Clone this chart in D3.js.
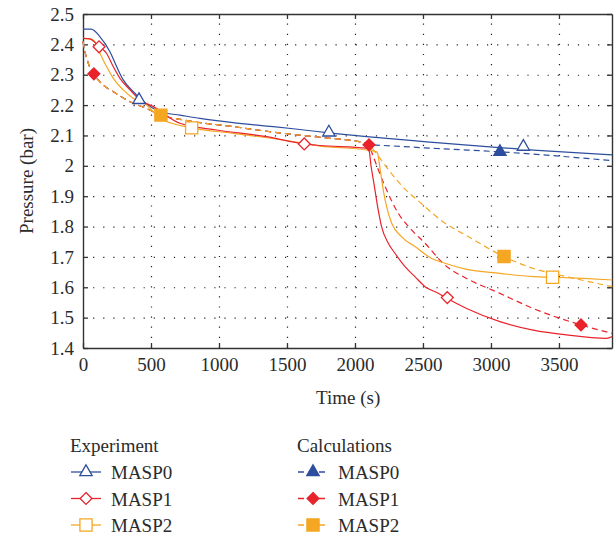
<!DOCTYPE html>
<html>
<head>
<meta charset="utf-8">
<script src="https://cdn.jsdelivr.net/npm/d3@7"></script>
<style>
	body { margin: 0; background: #fff; }
</style>
</head>
<body>
<div id="chart"></div>
<script>
// experiment curves
const expT0 = [0, 60, 125, 199, 248, 296, 370, 419, 505, 566, 713, 860, 1103, 1350, 1546, 1840, 2086, 2527, 2968, 3311, 3892];
const expP0 = [2.45, 2.45, 2.425, 2.375, 2.326, 2.283, 2.244, 2.222, 2.192, 2.178, 2.167, 2.156, 2.142, 2.131, 2.122, 2.107, 2.096, 2.079, 2.063, 2.052, 2.036];
const expT1 = [0, 50, 120, 174, 223, 272, 346, 419, 517, 713, 983, 1350, 1627, 1743, 2086, 2103, 2118, 2140, 2171, 2196, 2245, 2294, 2368, 2441, 2515, 2613, 2679, 2821, 3066, 3311, 3556, 3850, 3892];
const expP1 = [2.42, 2.418, 2.392, 2.37, 2.326, 2.288, 2.25, 2.217, 2.195, 2.14, 2.118, 2.096, 2.072, 2.067, 2.058, 2.052, 2.0, 1.94, 1.854, 1.799, 1.745, 1.712, 1.668, 1.635, 1.602, 1.58, 1.563, 1.53, 1.487, 1.459, 1.443, 1.432, 1.438];
const expT2 = [0, 40, 76, 125, 174, 223, 296, 370, 468, 566, 799, 1105, 1473, 1743, 2086, 2159, 2167, 2184, 2208, 2233, 2270, 2343, 2441, 2564, 2662, 2821, 3066, 3311, 3453, 3679, 3892];
const expP2 = [2.42, 2.419, 2.414, 2.37, 2.326, 2.288, 2.25, 2.222, 2.2, 2.156, 2.125, 2.107, 2.085, 2.065, 2.052, 2.046, 2.04, 1.992, 1.92, 1.865, 1.811, 1.766, 1.734, 1.695, 1.679, 1.659, 1.646, 1.635, 1.633, 1.629, 1.624];

// calculation curves
const calT0 = [0, 7, 39, 76, 149, 223, 346, 468, 573, 738, 1105, 1473, 1743, 2086, 2103, 2159, 2600, 3066, 3892];
const calP0 = [2.41, 2.392, 2.338, 2.305, 2.266, 2.244, 2.211, 2.189, 2.167, 2.151, 2.129, 2.107, 2.094, 2.074, 2.069, 2.068, 2.057, 2.046, 2.017];
const calT1 = [0, 7, 39, 76, 149, 223, 346, 468, 573, 738, 1105, 1473, 1743, 2086, 2103, 2122, 2233, 2319, 2416, 2515, 2662, 2821, 3066, 3311, 3662, 3892];
const calP1 = [2.41, 2.392, 2.338, 2.305, 2.266, 2.244, 2.211, 2.189, 2.167, 2.151, 2.129, 2.107, 2.094, 2.074, 2.069, 2.046, 1.92, 1.843, 1.789, 1.745, 1.673, 1.629, 1.58, 1.53, 1.476, 1.448];
const calT2 = [0, 7, 39, 76, 149, 223, 346, 468, 573, 738, 1105, 1473, 1743, 2086, 2103, 2147, 2250, 2343, 2490, 2662, 2821, 3096, 3311, 3556, 3892];
const calP2 = [2.41, 2.392, 2.338, 2.305, 2.266, 2.244, 2.211, 2.189, 2.167, 2.151, 2.129, 2.107, 2.094, 2.074, 2.069, 2.046, 1.985, 1.935, 1.875, 1.811, 1.77, 1.701, 1.662, 1.635, 1.602];

// marker positions
const expMarkT0 = [412, 1808, 3238];
const expMarkP0 = [2.217, 2.11, 2.063];
const expMarkT1 = [118, 1627, 2679];
const expMarkP1 = [2.392, 2.072, 1.566];
const expMarkT2 = [799, 3453];
const expMarkP2 = [2.125, 1.633];
const calMarkT0 = [3066];
const calMarkP0 = [2.046];
const calMarkT1 = [80, 2103, 3662];
const calMarkP1 = [2.303, 2.069, 1.476];
const calMarkT2 = [573, 3096];
const calMarkP2 = [2.167, 1.701];

const xTicks = [0, 500, 1000, 1500, 2000, 2500, 3000, 3500];
const yTicks = [1.4, 1.5, 1.6, 1.7, 1.8, 1.9, 2, 2.1, 2.2, 2.3, 2.4, 2.5];
const seriesNames = ["MASP0", "MASP1", "MASP2"];

const colors = ["#2d4e9e", "#e8232b", "#f5a623"];
const font = "'Liberation Serif', 'Times New Roman', serif";
const textColor = "#2b2b2b";

// diamond drawn as a square turned 45 degrees
const symbolRhomb = {
	draw(ctx, size) {
		const r = Math.sqrt(size / 2);
		ctx.moveTo(0, -r);
		ctx.lineTo(r, 0);
		ctx.lineTo(0, r);
		ctx.lineTo(-r, 0);
		ctx.closePath();
	}
};
const symbols = [d3.symbolTriangle, symbolRhomb, d3.symbolSquare];
const symSize = [66, 70, 148];

const width = 614, height = 537;
const margin = { top: 14, right: 2, bottom: 189, left: 83 };
const w = width - margin.left - margin.right;
const h = height - margin.top - margin.bottom;

const x = d3.scaleLinear().domain([0, 3890]).range([0, w]);
const y = d3.scaleLinear().domain([1.4, 2.5]).range([h, 0]);

const svg = d3.select("#chart").append("svg")
	.attr("width", width)
	.attr("height", height)
	.style("font-family", font);

const g = svg.append("g").attr("transform", `translate(${margin.left}, ${margin.top})`);

// dotted grid
g.append("g")
	.attr("class", "grid x")
	.attr("transform", `translate(0, ${h})`)
	.call(d3.axisBottom(x).tickValues(xTicks.slice(1)).tickSize(-h).tickFormat(""))
	.call(s => s.select(".domain").remove())
	.selectAll("line")
		.attr("stroke", "#222")
		.attr("stroke-width", 1.2)
		.attr("stroke-dasharray", "1.2,8.9");

g.append("g")
	.attr("class", "grid y")
	.call(d3.axisLeft(y).tickValues(yTicks.slice(1, -1)).tickSize(-w).tickFormat(""))
	.call(s => s.select(".domain").remove())
	.selectAll("line")
		.attr("stroke", "#222")
		.attr("stroke-width", 1.2)
		.attr("stroke-dasharray", "1.2,8.9");

// axes with inward ticks
function styleAxis(s) {
	s.select(".domain").attr("stroke", "#333").attr("stroke-width", 1.4);
	s.selectAll(".tick line").attr("stroke", "#333").attr("stroke-width", 1.3);
	s.selectAll(".tick text")
		.style("font-family", font)
		.style("font-size", "19px")
		.attr("fill", textColor);
}

g.append("g")
	.attr("class", "axis x")
	.attr("transform", `translate(0, ${h})`)
	.call(d3.axisBottom(x).tickValues(xTicks).tickSizeInner(-5).tickSizeOuter(0).tickPadding(10).tickFormat(d3.format("d")))
	.call(styleAxis);

g.append("g")
	.attr("class", "axis x2")
	.call(d3.axisTop(x).tickValues(xTicks).tickSizeInner(-5).tickSizeOuter(0).tickFormat(""))
	.call(styleAxis);

g.append("g")
	.attr("class", "axis y")
	.call(d3.axisLeft(y).tickValues(yTicks).tickSizeInner(-5).tickSizeOuter(0).tickPadding(9).tickFormat(d => d3.format("")(d)))
	.call(styleAxis);

g.append("g")
	.attr("class", "axis y2")
	.attr("transform", `translate(${w}, 0)`)
	.call(d3.axisRight(y).tickValues(yTicks).tickSizeInner(-5).tickSizeOuter(0).tickFormat(""))
	.call(styleAxis);

// lines
const line = d3.line()
	.curve(d3.curveMonotoneX)
	.x(d => x(d[0]))
	.y(d => y(d[1]));

const plot = g.append("g").attr("class", "chart");

const calc = [[calT0, calP0], [calT1, calP1], [calT2, calP2]];
const expe = [[expT0, expP0], [expT1, expP1], [expT2, expP2]];
const calMarks = [[calMarkT0, calMarkP0], [calMarkT1, calMarkP1], [calMarkT2, calMarkP2]];
const expMarks = [[expMarkT0, expMarkP0], [expMarkT1, expMarkP1], [expMarkT2, expMarkP2]];

[0, 1, 2].forEach(i => {
	plot.append("path")
		.datum(d3.zip(calc[i][0], calc[i][1]))
		.attr("d", line)
		.attr("fill", "none")
		.attr("stroke", colors[i])
		.attr("stroke-width", 1.2)
		.attr("stroke-dasharray", "6,4");
});

[0, 2, 1].forEach(i => {
	plot.append("path")
		.datum(d3.zip(expe[i][0], expe[i][1]))
		.attr("d", line)
		.attr("fill", "none")
		.attr("stroke", colors[i])
		.attr("stroke-width", 1.2);
});

function drawMarks(sel, pts, i, filled) {
	sel.selectAll(null)
		.data(pts)
		.enter().append("path")
			.attr("transform", d => `translate(${x(d[0])}, ${y(d[1])})`)
			.attr("d", d3.symbol().type(symbols[i]).size(symSize[i]))
			.attr("fill", filled ? colors[i] : "#fff")
			.attr("stroke", colors[i])
			.attr("stroke-width", 1.3);
}

[0, 1, 2].forEach(i => {
	drawMarks(plot, d3.zip(expMarks[i][0], expMarks[i][1]), i, false);
	drawMarks(plot, d3.zip(calMarks[i][0], calMarks[i][1]), i, true);
});

// axis titles
svg.append("text")
	.attr("x", margin.left + x(1950))
	.attr("y", 404)
	.attr("text-anchor", "middle")
	.style("font-size", "19px")
	.attr("fill", textColor)
	.text("Time (s)");

svg.append("text")
	.attr("transform", `translate(33, ${margin.top + y(1.95)}) rotate(-90)`)
	.attr("text-anchor", "middle")
	.style("font-size", "19px")
	.attr("fill", textColor)
	.text("Pressure (bar)");

// legend
const legendCols = [
	{ title: "Experiment", x: 70, dashed: false, filled: false },
	{ title: "Calculations", x: 297, dashed: true, filled: true },
];

legendCols.forEach(col => {
	const lg = svg.append("g").attr("class", "legend").attr("transform", `translate(${col.x}, 0)`);
	lg.append("text")
		.attr("x", 0)
		.attr("y", 452)
		.style("font-size", "19px")
		.attr("fill", textColor)
		.text(col.title);
	seriesNames.forEach((name, i) => {
		const yy = 472 + i * 26.5;
		lg.append("line")
			.attr("x1", 1).attr("x2", 31)
			.attr("y1", yy).attr("y2", yy)
			.attr("stroke", colors[i])
			.attr("stroke-width", 1.3)
			.attr("stroke-dasharray", col.dashed ? "6,4.5" : null);
		lg.append("path")
			.attr("transform", `translate(16, ${yy})`)
			.attr("d", d3.symbol().type(symbols[i]).size(symSize[i]))
			.attr("fill", col.filled ? colors[i] : "#fff")
			.attr("stroke", colors[i])
			.attr("stroke-width", 1.3);
		lg.append("text")
			.attr("x", 41)
			.attr("y", yy + 7)
			.style("font-size", "19px")
			.attr("fill", textColor)
			.text(name);
	});
});
</script>
</body>
</html>
